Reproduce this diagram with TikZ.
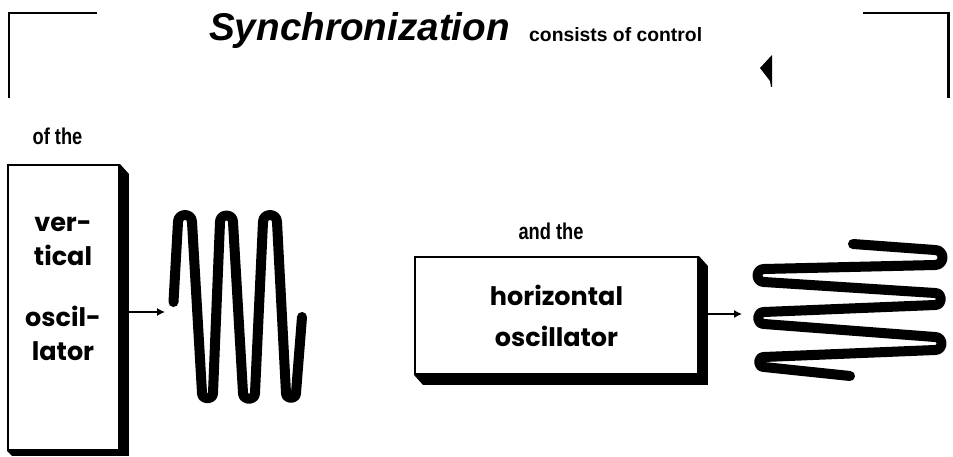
\documentclass[tikz,border=0pt]{standalone}
\usepackage{fontspec}
\usetikzlibrary{arrows.meta}
\newfontfamily\headfont{Liberation Sans}
\newfontfamily\narrowfont{Liberation Sans}[FakeStretch=0.8]
\newfontfamily\boxfont{Poppins}

\begin{document}
\begin{tikzpicture}[
  bracket/.style ={line width=1.7pt},
  obox/.style    ={draw, line width=1.1pt, fill=white, inner sep=0pt},
  btext/.style   ={font=\boxfont\bfseries\fontsize{14.5}{19.3}\selectfont,
                   align=center, inner sep=0pt},
  lbl/.style     ={font=\narrowfont\bfseries\fontsize{13}{15}\selectfont},
  sig/.style     ={-{Latex[length=1.6mm,width=1.6mm]}, line width=0.7pt},
  wave/.style    ={line width=5.7pt, line cap=round, line join=round},
  turn/.style    ={looseness=1.7},
]
\useasboundingbox (0,0) rectangle (19.06,9.12);

% ---------------- heading ----------------
\draw[bracket] (0.18,7.16) |- (1.94,8.86);
\draw[bracket] (17.26,8.86) -| (18.96,7.16);
\node[anchor=base west, font=\headfont\bfseries\itshape\fontsize{22}{26}\selectfont]
  (title) at (4.06,8.30) {Synchronization};
\node[anchor=base west, font=\headfont\bfseries\fontsize{11}{13}\selectfont]
  (sub) at (10.46,8.28) {consists of control};
\fill (15.20,7.76) -- (15.44,8.02) -- (15.44,7.38) -- (15.42,7.38) -- (15.40,7.50) -- cycle;

% ---------------- vertical oscillator ----------------
\node[lbl, anchor=base] (ofthe) at (1.15,6.22) {of the};
\node[obox, minimum width=2.22cm, minimum height=5.70cm] (vbox) at (1.27,2.97) {};
\fill (vbox.north east) -- ++(0.18,-0.20) |- ([shift={(0.10,-0.10)}]vbox.south west)
  -- (vbox.south west) -- (vbox.south east) -- cycle;
\node[btext, anchor=north] (vtxt) at (1.26,4.78) {ver-\\tical\\[0.54cm]oscil-\\lator};
\coordinate (vtip) at (3.30,2.88);
\draw[sig] ([shift={(0.18,-0.09)}]vbox.east) -- (vtip);
\draw[wave] (3.47,3.08) -- (3.56,4.68) to[out=90,in=90,turn] (3.84,4.68)
  -- (4.04,1.26) to[out=-90,in=-90,turn] (4.26,1.26)
  -- (4.40,4.68) to[out=90,in=90,turn] (4.66,4.68)
  -- (4.86,1.26) to[out=-90,in=-90,turn] (5.10,1.26)
  -- (5.26,4.68) to[out=90,in=90,turn] (5.54,4.68)
  -- (5.72,1.26) to[out=-90,in=-90,turn] (5.92,1.26)
  -- (6.04,2.78);

% ---------------- horizontal oscillator ----------------
\node[lbl, anchor=base] (andthe) at (11.02,4.32) {and the};
\node[obox, btext, minimum width=5.66cm, minimum height=2.34cm] (hbox) at (11.13,2.81)
  {horizontal\\[4pt]oscillator};
\fill (hbox.north east) -- ++(0.18,-0.20) |- ([shift={(0.18,-0.20)}]hbox.south west)
  -- (hbox.south west) -- (hbox.south east) -- cycle;
\coordinate (htip) at (14.84,2.84);
\draw[sig] ([shift={(0.18,0.03)}]hbox.east) -- (htip);
\draw[wave] (17.06,4.24) -- (18.70,4.12) to[out=0,in=0,turn] (18.70,3.82)
  -- (15.28,3.74) to[out=180,in=180,turn] (15.28,3.48)
  -- (18.70,3.26) to[out=0,in=0,turn] (18.70,3.02)
  -- (15.28,2.88) to[out=180,in=180,turn] (15.28,2.64)
  -- (18.70,2.38) to[out=0,in=0,turn] (18.70,2.12)
  -- (15.28,1.98) to[out=180,in=180,turn] (15.28,1.78)
  -- (17.00,1.60);

\end{tikzpicture}
\end{document}
